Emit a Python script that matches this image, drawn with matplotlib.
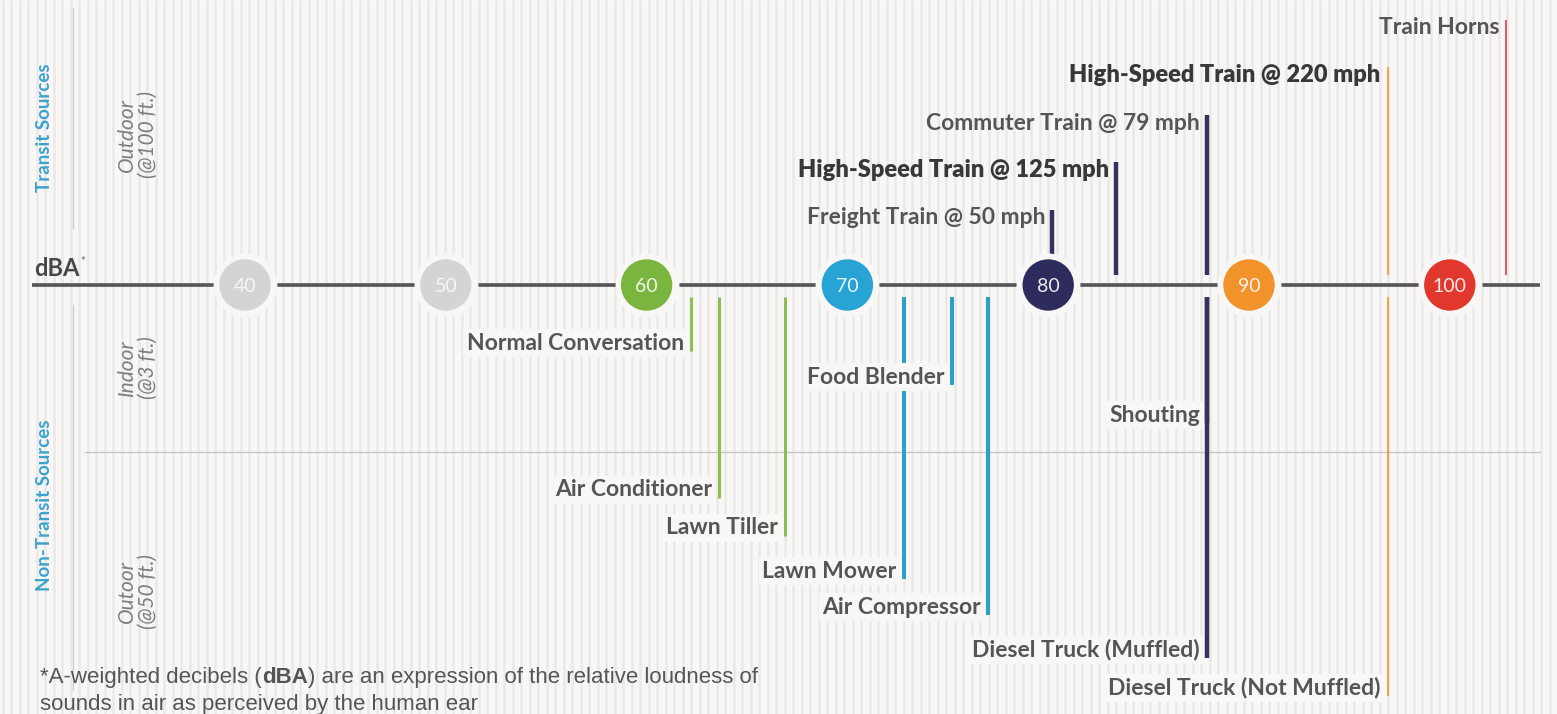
import numpy as np
import matplotlib.pyplot as plt

# dBA scale markers
scale_levels = [40, 50, 60, 70, 80, 90, 100]
scale_colors = ['#d4d4d4', '#d4d4d4', '#7ab53f', '#27a3d5', '#2e2c5c', '#f1922b', '#e1372d']

# transit sources (drawn above the dBA line)
transit_names = ['Freight Train @ 50 mph', 'High-Speed Train @ 125 mph', 'Commuter Train @ 79 mph',
                 'High-Speed Train @ 220 mph', 'Train Horns']
transit_dba = [80.2, 83.4, 87.9, 96.9, 102.8]
transit_bold = [False, True, False, True, False]

# non-transit sources (drawn below the dBA line)
other_names = ['Normal Conversation', 'Air Conditioner', 'Lawn Tiller', 'Lawn Mower', 'Food Blender',
               'Air Compressor', 'Shouting', 'Diesel Truck (Muffled)', 'Diesel Truck (Not Muffled)']
other_dba = [62.2, 63.6, 66.9, 72.8, 75.2, 77.0, 87.9, 87.9, 96.9]

# layout (pixel rows for the labels)
transit_rows = [218, 170, 123, 75, 28]
other_rows = [343, 490, 528, 571, 377, 607, 415, 650, 688]

W, H = 1557, 714
BG = '#f8f7f5'
PX_PER_DB = 20.08
X40 = 245
AXIS_Y = 285
band_color = {6: '#8dbd55', 7: '#2c9fcb', 8: '#34335e', 9: '#f0a440', 10: '#e05a5e'}
band_lw = {6: 2.2, 7: 2.9, 8: 3.2, 9: 1.4, 10: 1.4}

fig = plt.figure(figsize=(W / 100, H / 100), dpi=100)
fig.patch.set_facecolor(BG)

# decoration axes in pixel units
deco = fig.add_axes([0, 0, 1, 1])
deco.set_xlim(0, W)
deco.set_ylim(H, 0)
deco.axis('off')

# striped background
stripes = np.arange(3, W, 8.5)
deco.vlines(stripes, 0, H, color='#eae9e7', lw=1.8, zorder=0)

# main dBA line and separators
deco.plot([32, 1540], [AXIS_Y, AXIS_Y], color='#555555', lw=2.6, solid_capstyle='butt', zorder=2)
deco.plot([85, 1540], [452, 452], color='#c4c4c4', lw=0.9, zorder=1)
deco.plot([73, 73], [8, 228], color='#cfcfcf', lw=0.9, zorder=1)
deco.plot([73, 73], [305, 690], color='#cfcfcf', lw=0.9, zorder=1)

deco.text(34, 268, 'dBA', fontsize=17, fontweight='bold', color='#474747', family='Lato',
          ha='left', va='center')
deco.text(80, 262, '*', fontsize=8, color='#666666', family='Lato', ha='left', va='center')

# side labels
deco.text(45, 128, 'Transit Sources', rotation=90, fontsize=13.5, fontweight='bold', color='#3aa3cc',
          family='Lato', ha='center', va='center')
deco.text(45, 505, 'Non-Transit Sources', rotation=90, fontsize=13.5, fontweight='bold', color='#3aa3cc',
          family='Lato', ha='center', va='center')
for yy, txt in [(135, 'Outdoor\n(@100 ft.)'), (368, 'Indoor\n(@3 ft.)'), (592, 'Outoor\n(@50 ft.)')]:
    deco.text(137, yy, txt, rotation=90, fontsize=15, style='italic', color='#7e7e7e',
              family='Lato', ha='center', va='center', linespacing=1.05)

# footnote with bold dBA
note_font = ['Liberation Sans Narrow', 'Liberation Sans']
t1 = deco.text(40, 683, '*A-weighted decibels (', fontsize=16, color='#555555', family=note_font,
               ha='left', va='baseline', zorder=5)
t2 = deco.annotate('dBA', xy=(1, 683), xycoords=(t1, 'data'), fontsize=16, fontweight='bold',
                   color='#555555', family=note_font, ha='left', va='baseline', zorder=5)
deco.annotate(') are an expression of the relative loudness of', xy=(1, 683), xycoords=(t2, 'data'),
              fontsize=16, color='#555555', family=note_font, ha='left', va='baseline', zorder=5)
deco.text(40, 710, 'sounds in air as perceived by the human ear', fontsize=16, color='#555555',
          family=note_font, ha='left', va='baseline', zorder=5)

# data axes: x in dBA, y in pixels
ax = fig.add_axes([0, 0, 1, 1])
ax.set_xlim(40 - X40 / PX_PER_DB, 40 + (W - X40) / PX_PER_DB)
ax.set_ylim(H, 0)
ax.axis('off')
ax.patch.set_alpha(0)

# circles on the scale
ax.scatter(scale_levels, [AXIS_Y] * len(scale_levels), s=46 ** 2, color=BG, zorder=3, linewidths=0)
ax.scatter(scale_levels, [AXIS_Y] * len(scale_levels), s=37 ** 2, color=scale_colors, zorder=4,
           linewidths=0)
for lv, c in zip(scale_levels, scale_colors):
    ax.text(lv, AXIS_Y + 1, str(lv), fontsize=14, color='white', alpha=0.9 if lv > 50 else 0.8,
            family='Lato', ha='center', va='center', zorder=5)


def band(db):
    return min(int(db // 10), 10)


for name, db, row, bold in zip(transit_names, transit_dba, transit_rows, transit_bold):
    b = band(db)
    ax.vlines(db, row - 8, AXIS_Y - 10, color=band_color[b], lw=band_lw[b], zorder=2)
    ax.annotate(name, xy=(db, row), xytext=(-7, 0), textcoords='offset pixels', ha='right',
                va='center', fontsize=17 if bold else 16.5, family='Lato',
                fontweight='heavy' if bold else 'bold',
                color='#383838' if bold else '#555555', zorder=3)

for name, db, row in zip(other_names, other_dba, other_rows):
    b = band(db)
    ax.vlines(db, AXIS_Y + 12, row + 8, color=band_color[b], lw=band_lw[b], zorder=2)
    ax.annotate(name, xy=(db, row), xytext=(-7, 0), textcoords='offset pixels', ha='right',
                va='center', fontsize=16.5, family='Lato', fontweight='bold', color='#555555',
                zorder=3, bbox=dict(boxstyle='square,pad=0.15', fc=BG, ec='none'))

fig.savefig('out.png', dpi=100, facecolor=BG)
